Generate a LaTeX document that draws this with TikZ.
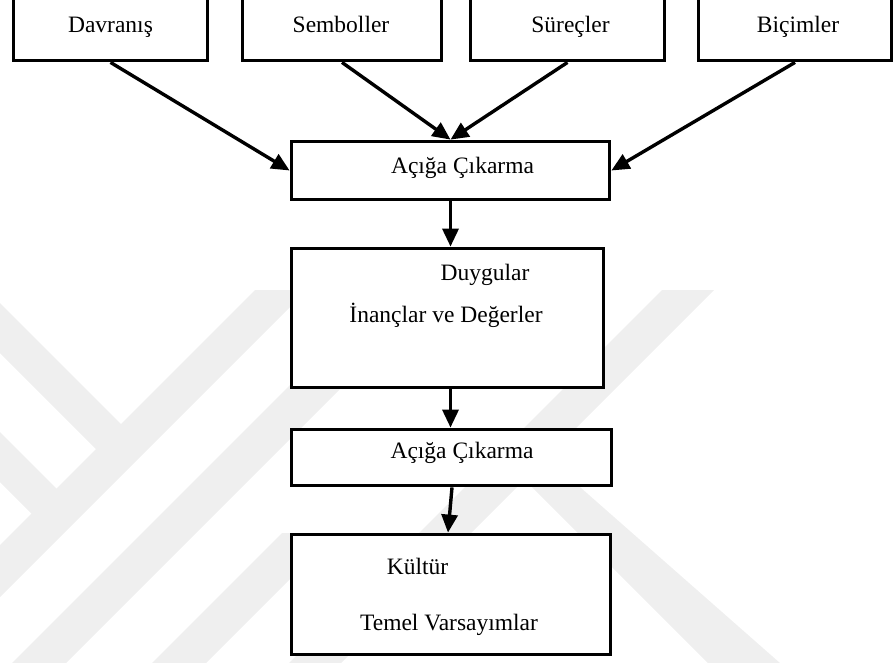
\documentclass[tikz,border=0pt]{standalone}
\usepackage{fontspec}
\setmainfont{Liberation Serif}
\usetikzlibrary{arrows.meta,calc}
\definecolor{wmgray}{HTML}{EFEFEF}

\begin{document}
\begin{tikzpicture}[x=1pt,y=-1pt,
  box/.style={draw=black, line width=3.8pt, fill=white, rectangle, inner sep=0pt},
  lbl/.style={font=\fontsize{23.5}{28}\selectfont, inner sep=0pt, anchor=base},
  arr/.style={line width=3.4pt, -{Triangle[length=18pt,width=16pt]}},
  band/.style={fill=wmgray, draw=none}]
\useasboundingbox (0,0) rectangle (895,662);
\clip (0,0) rectangle (895,662);

% faint background emblem
\fill[band] (255,290) -- (307,290) -- (-100,697) -- (-100,645) -- cycle;
\fill[band] (-50,253) -- (134,437) -- (109,462) -- (-50,303) -- cycle;
\fill[band] (-50,382) -- (69,501) -- (44,526) -- (-50,432) -- cycle;
\fill[band] (375,300) -- (429,300) -- (-100,829) -- (-100,775) -- cycle;
\fill[band] (282,533) -- (336,533) -- (-100,969) -- (-100,915) -- cycle;
\fill[band] (662,290) -- (714,290) -- (304,700) -- (252,700) -- cycle;
\fill[band] (539,451) -- (822,700) -- (745,700) -- (517.5,472.5) -- cycle;

% top row
\node[box, minimum width=194pt, minimum height=70.5pt] (dav) at (110.5,25.25) {};
\node[box, minimum width=199pt, minimum height=70.5pt] (sem) at (342,25.25) {};
\node[box, minimum width=194pt, minimum height=70.5pt] (sur) at (567.5,25.25) {};
\node[box, minimum width=193pt, minimum height=70.5pt] (bic) at (795,25.25) {};
\node[lbl] (tdav) at (110.5,32) {Davranış};
\node[lbl] (tsem) at (341,32) {Semboller};
\node[lbl] (tsur) at (570.5,32) {Süreçler};
\node[lbl] (tbic) at (798,32) {Biçimler};

% central column
\node[box, minimum width=318pt, minimum height=58pt] (acg1) at (450.5,170.5) {};
\node[lbl] (tacg1) at (462.5,173.3) {Açığa Çıkarma};

\node[box, minimum width=312pt, minimum height=139pt] (dyg) at (447.5,318) {};
\node[lbl] (tdyg) at (485,280.5) {Duygular};
\node[lbl] (tinc) at (446,322.7) {İnançlar ve Değerler};

\node[box, minimum width=320pt, minimum height=56pt] (acg2) at (451.5,457.5) {};
\node[lbl] (tacg2) at (462,458.3) {Açığa Çıkarma};

\node[box, minimum width=319pt, minimum height=120pt] (kul) at (451,594.5) {};
\node[lbl] (tkul) at (417.5,574) {Kültür};
\node[lbl] (ttem) at (449,630) {Temel Varsayımlar};

% connectors
\draw[arr] (dav.south) -- (acg1.west);
\draw[arr] (sem.south) -- (acg1.north);
\draw[arr] (sur.south) -- (acg1.north);
\draw[arr] (bic.south) -- (acg1.east);
\draw[arr] (acg1.south) -- (acg1.south |- dyg.north);
\draw[arr] (acg1.south |- dyg.south) -- (acg1.south |- acg2.north);
\draw[arr] ($(acg2.south)+(0.5,0)$) -- ($(kul.north)+(-3,0)$);
\end{tikzpicture}
\end{document}
